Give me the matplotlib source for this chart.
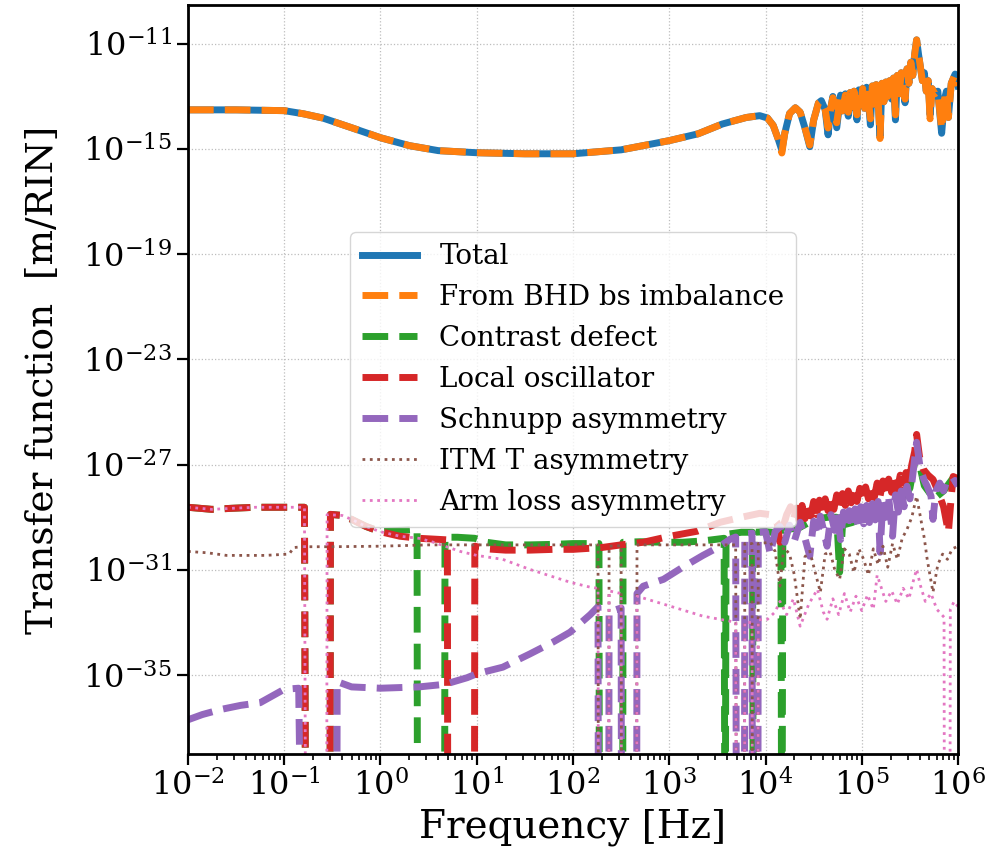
import numpy as np
import matplotlib
matplotlib.use("Agg")
import matplotlib.pyplot as plt
from matplotlib.ticker import LogLocator, NullLocator, NullFormatter

plt.rcParams["font.family"] = ["DejaVu Serif"]
plt.rcParams["mathtext.fontset"] = "dejavuserif"

# ---- data: log10(frequency / Hz) and log10(|TF| / (m/RIN)) ----
# -45 marks samples where the transfer function goes through zero / changes sign
total_logf = [-2.00, -1.50, -1.00, -0.80, -0.60, -0.30, 0.00, 0.30, 0.60, 1.00,
              1.50, 2.00, 2.50, 3.00, 3.30, 3.55, 3.80, 3.94, 4.02, 4.08,
              4.13, 4.17, 4.20, 4.25, 4.31, 4.36, 4.41, 4.46, 4.50, 4.55,
              4.58, 4.62, 4.65, 4.68, 4.70, 4.74, 4.78, 4.80, 4.83, 4.86,
              4.88, 4.90, 4.92, 4.95, 4.97, 4.99, 5.01, 5.03, 5.05, 5.07,
              5.09, 5.11, 5.13, 5.15, 5.17, 5.19, 5.21, 5.23, 5.25, 5.27,
              5.29, 5.31, 5.33, 5.35, 5.37, 5.39, 5.41, 5.43, 5.45, 5.47,
              5.49, 5.51, 5.53, 5.55, 5.57, 5.59, 5.61, 5.63, 5.65, 5.67,
              5.69, 5.71, 5.73, 5.76, 5.79, 5.83, 5.86, 5.88, 5.90, 5.93,
              5.97, 6.00]
total_logm = [-13.51, -13.51, -13.54, -13.66, -13.82, -14.19, -14.57, -14.87, -15.06, -15.14,
              -15.18, -15.18, -15.03, -14.68, -14.42, -14.05, -13.80, -13.73, -13.82, -14.10,
              -14.60, -15.05, -14.40, -13.65, -13.43, -13.60, -14.20, -14.91, -13.90, -13.25,
              -13.16, -13.50, -14.46, -13.40, -13.00, -14.19, -12.95, -13.55, -12.90, -13.75,
              -12.85, -13.40, -12.80, -13.89, -12.75, -13.30, -12.70, -13.45, -12.65, -13.20,
              -14.08, -12.60, -13.30, -12.55, -13.10, -14.53, -12.50, -13.20, -12.45, -13.00,
              -12.40, -13.10, -12.30, -13.89, -12.20, -12.90, -12.10, -12.70, -13.24, -11.95,
              -12.50, -11.70, -12.20, -11.40, -10.85, -11.40, -11.90, -12.40, -12.10, -12.80,
              -12.40, -13.70, -12.70, -12.90, -12.80, -14.40, -13.10, -12.80, -13.80, -12.50,
              -12.15, -12.60]
bhd_logm = [-13.51, -13.51, -13.54, -13.66, -13.82, -14.19, -14.57, -14.87, -15.06, -15.14,
            -15.18, -15.18, -15.03, -14.68, -14.42, -14.05, -13.80, -13.73, -13.82, -14.10,
            -14.60, -15.15, -14.40, -13.65, -13.43, -13.60, -14.20, -14.85, -13.90, -13.25,
            -13.16, -13.50, -14.20, -13.40, -13.05, -14.00, -12.95, -13.55, -12.95, -13.60,
            -12.85, -13.40, -12.80, -13.70, -12.75, -13.30, -12.70, -13.45, -12.65, -13.20,
            -13.85, -12.60, -13.30, -12.55, -13.10, -14.60, -12.50, -13.20, -12.45, -13.00,
            -12.40, -13.10, -12.30, -13.70, -12.20, -12.90, -12.10, -12.70, -13.10, -11.95,
            -12.50, -11.70, -12.20, -11.40, -10.85, -11.40, -11.90, -12.40, -12.10, -12.80,
            -12.40, -13.85, -12.70, -12.90, -12.80, -14.25, -13.10, -12.80, -13.80, -12.50,
            -12.15, -12.60]

cd_logf = [-2.00, -1.75, -1.55, -1.30, -1.00, -0.79, -0.775, -0.525, -0.52, -0.40,
           -0.30, -0.15, 0.00, 0.20, 0.38, 0.385, 0.665, 0.67, 0.80, 0.98,
           1.10, 1.30, 1.55, 1.80, 2.00, 2.27, 2.275, 2.515, 2.52, 2.70,
           2.94, 3.14, 3.35, 3.57, 3.58, 3.59, 3.75, 3.865, 3.875, 3.885,
           4.00, 4.16, 4.17, 4.18, 4.25, 4.35, 4.45, 4.55, 4.65, 4.74,
           4.77, 4.80, 4.90, 5.00, 5.10, 5.20, 5.30, 5.40, 5.50, 5.57,
           5.65, 5.75, 5.85, 5.95, 6.00]
cd_logm = [-28.62, -28.70, -28.66, -28.62, -28.62, -28.62, -45, -45, -28.89, -28.93,
           -29.08, -29.35, -29.55, -29.50, -29.46, -45, -45, -29.76, -29.76, -29.80,
           -29.95, -30.05, -30.05, -30.03, -30.00, -30.00, -45, -45, -29.95, -29.93,
           -29.95, -29.95, -29.90, -29.80, -45, -29.65, -29.57, -29.57, -45, -29.57,
           -29.55, -29.60, -45, -29.50, -29.45, -29.40, -29.20, -29.05, -29.00, -29.00,
           -31.09, -29.30, -29.20, -29.05, -28.90, -28.75, -28.60, -28.40, -27.90, -26.50,
           -27.80, -28.30, -28.00, -27.50, -27.48]

lo_logf = [-2.00, -1.75, -1.55, -1.30, -1.00, -0.79, -0.775, -0.525, -0.52, -0.40,
           -0.30, -0.15, 0.00, 0.20, 0.40, 0.60, 0.695, 0.70, 0.975, 0.98,
           1.10, 1.30, 1.55, 1.80, 2.00, 2.30, 2.50, 2.73, 3.01, 3.29,
           3.53, 3.75, 3.94, 4.05, 4.12, 4.15, 4.18, 4.22, 4.26,
           4.29, 4.32, 4.35, 4.38, 4.41, 4.44, 4.47, 4.50, 4.53, 4.56,
           4.59, 4.62, 4.65, 4.68, 4.71, 4.74, 4.77, 4.80, 4.83, 4.86,
           4.89, 4.92, 4.95, 4.98, 5.01, 5.04, 5.07, 5.10, 5.13, 5.16,
           5.19, 5.22, 5.25, 5.28, 5.31, 5.34, 5.37, 5.40, 5.43, 5.46,
           5.49, 5.52, 5.55, 5.57, 5.60, 5.64, 5.69, 5.74, 5.78, 5.81,
           5.85, 5.90, 5.93, 5.95, 5.98, 6.00]
lo_logm = [-28.62, -28.70, -28.66, -28.62, -28.62, -28.62, -45, -45, -28.89, -28.93,
           -29.08, -29.35, -29.55, -29.72, -29.80, -29.84, -29.86, -45, -45, -30.10,
           -30.20, -30.25, -30.25, -30.22, -30.22, -30.15, -30.05, -29.95, -29.72, -29.53,
           -29.19, -29.00, -28.85, -28.90, -29.20, -29.95, -29.40, -28.90, -28.60,
           -29.10, -28.65, -29.15, -28.55, -29.05, -28.45, -28.95, -28.40, -28.90, -28.35,
           -28.85, -28.30, -28.75, -28.22, -28.70, -28.15, -28.60, -28.10, -28.55, -28.00,
           -28.45, -27.95, -28.40, -27.90, -28.35, -27.85, -28.30, -27.78, -28.25, -27.70,
           -28.20, -27.62, -28.10, -27.55, -28.05, -27.48, -27.95, -27.40, -27.85, -27.30,
           -27.70, -27.00, -26.50, -25.85, -26.70, -27.18, -27.40, -27.56, -27.90, -28.20,
           -28.60, -29.57, -28.20, -27.45, -27.50, -27.56]

sa_logf = [-2.00, -1.85, -1.65, -1.45, -1.25, -1.00, -0.85, -0.815, -0.455, -0.45,
           -0.30, 0.00, 0.40, 0.67, 0.90, 1.00, 1.27, 1.55, 1.79, 1.97,
           2.18, 2.26, 2.265, 2.37, 2.375, 2.50, 2.505, 2.66, 2.665, 2.73,
           2.94, 3.14, 3.35, 3.53, 3.63, 3.69, 3.70, 3.78, 3.785, 3.86,
           3.865, 3.92, 3.925, 4.00, 4.05, 4.10, 4.15, 4.20, 4.25, 4.30,
           4.36, 4.41, 4.46, 4.50, 4.54, 4.57, 4.61, 4.64, 4.68, 4.72,
           4.75, 4.78, 4.81, 4.84, 4.87, 4.90, 4.93, 4.96, 4.99, 5.02,
           5.05, 5.08, 5.11, 5.14, 5.17, 5.19, 5.22, 5.25, 5.28, 5.32,
           5.35, 5.38, 5.41, 5.44, 5.47, 5.50, 5.53, 5.57, 5.61, 5.65,
           5.68, 5.72, 5.74, 5.77, 5.81, 5.85, 5.89, 5.93, 5.97, 6.00]
sa_logm = [-36.70, -36.50, -36.30, -36.15, -36.05, -35.54, -35.50, -45, -45, -35.25,
           -35.45, -35.50, -35.45, -35.35, -35.10, -34.95, -34.70, -34.20, -33.75, -33.37,
           -32.70, -32.40, -45, -45, -32.60, -32.45, -45, -45, -31.90, -31.62,
           -31.36, -30.90, -30.45, -30.10, -29.84, -29.75, -45, -45, -29.65, -29.60,
           -45, -45, -29.57, -29.55, -30.40, -29.55, -29.35, -29.95, -29.30, -29.90,
           -29.19, -29.80, -30.48, -29.15, -29.70, -28.96, -29.60, -30.10, -28.90, -29.50,
           -28.85, -29.85, -28.80, -29.40, -28.75, -29.35, -28.68, -29.30, -28.60, -29.25,
           -28.55, -29.20, -28.48, -29.10, -28.40, -30.33, -28.35, -29.00, -28.25, -29.72,
           -28.15, -28.80, -28.00, -28.60, -27.82, -28.30, -27.40, -26.15, -27.20, -27.60,
           -27.82, -28.20, -29.08, -28.00, -27.70, -28.00, -27.56, -27.70, -27.60, -27.82]

itm_logf = [-2.00, -1.80, -1.60, -1.20, -0.95, -0.90, -0.80, -0.50, 0.00, 0.50,
            1.00, 1.50, 2.00, 2.26, 2.265, 2.37, 2.375, 2.50, 2.505, 2.66,
            2.665, 3.00, 3.40, 3.69, 3.70, 3.78, 3.785, 3.86, 3.865, 3.92,
            3.925, 4.05, 4.10, 4.15, 4.19, 4.25, 4.30, 4.36, 4.41, 4.46,
            4.51, 4.57, 4.62, 4.67, 4.72, 4.77, 4.82, 4.87, 4.92, 4.97,
            5.02, 5.07, 5.12, 5.17, 5.22, 5.27, 5.32, 5.37, 5.42, 5.47,
            5.52, 5.57, 5.61, 5.65, 5.68, 5.74, 5.79, 5.84, 5.89, 5.94,
            6.00]
itm_logm = [-30.30, -30.35, -30.45, -30.45, -30.40, -30.15, -30.12, -30.12, -30.10, -30.05,
            -30.05, -30.05, -30.05, -30.05, -45, -45, -30.10, -30.08, -45, -45,
            -30.05, -30.05, -30.05, -30.05, -45, -45, -30.00, -30.00, -45, -45,
            -30.00, -29.95, -30.30, -31.62, -30.14, -30.40, -31.20, -32.88, -30.50, -30.29,
            -31.00, -31.85, -30.40, -30.30, -31.00, -31.36, -30.20, -30.40, -31.10, -30.20,
            -30.60, -31.20, -30.20, -30.80, -30.10, -30.90, -30.00, -30.60, -29.80, -29.46,
            -29.00, -28.20, -29.00, -29.80, -30.60, -31.85, -30.80, -30.40, -30.60, -30.20,
            -30.10]

al_logf = [-2.00, -1.75, -1.55, -1.30, -1.00, -0.79, -0.775, -0.56, -0.555, -0.40,
           -0.30, -0.15, 0.00, 0.20, 0.40, 0.55, 0.67, 0.83, 1.00, 1.27,
           1.55, 1.97, 2.18, 2.26, 2.265, 2.37, 2.375, 2.50, 2.505, 2.66,
           2.665, 3.01, 3.35, 3.63, 3.69, 3.70, 3.78, 3.785, 3.86, 3.865,
           3.92, 3.925, 4.02, 4.10, 4.15, 4.22, 4.29, 4.36, 4.45, 4.54,
           4.60, 4.64, 4.70, 4.76, 4.82, 4.88, 4.94, 5.00, 5.06, 5.12,
           5.16, 5.25, 5.31, 5.37, 5.43, 5.49, 5.53, 5.57, 5.61, 5.66,
           5.72, 5.78, 5.83, 5.855, 5.86, 5.915, 5.92, 5.96, 6.00]
al_logm = [-28.62, -28.70, -28.66, -28.62, -28.62, -28.62, -45, -45, -28.90, -28.93,
           -29.08, -29.35, -29.55, -29.72, -29.80, -29.95, -30.10, -30.30, -30.45, -30.60,
           -30.98, -31.47, -31.66, -31.70, -45, -45, -31.80, -31.90, -45, -45,
           -32.00, -32.38, -32.76, -32.95, -33.00, -45, -45, -33.00, -33.00, -45,
           -45, -32.90, -32.88, -32.60, -32.20, -32.70, -32.10, -33.14, -32.30, -31.74,
           -32.60, -32.88, -32.10, -32.70, -31.90, -32.60, -32.00, -32.55, -31.95, -32.50,
           -31.20, -32.20, -31.80, -32.30, -31.70, -32.10, -31.50, -30.98, -31.60, -32.20,
           -31.90, -32.50, -32.70, -32.80, -45, -45, -32.50, -32.20, -32.40]

series = [
    ("Total", total_logf, total_logm, dict(color="C0", lw=5.0, ls="-")),
    ("From BHD bs imbalance", total_logf, bhd_logm, dict(color="C1", lw=5.0, ls="--")),
    ("Contrast defect", cd_logf, cd_logm, dict(color="C2", lw=5.0, ls="--")),
    ("Local oscillator", lo_logf, lo_logm, dict(color="C3", lw=5.0, ls="--")),
    ("Schnupp asymmetry", sa_logf, sa_logm, dict(color="C4", lw=5.0, ls="--")),
    ("ITM T asymmetry", itm_logf, itm_logm, dict(color="C5", lw=2.0, ls=":")),
    ("Arm loss asymmetry", al_logf, al_logm, dict(color="C6", lw=2.0, ls=":")),
]

fig = plt.figure(figsize=(10.08, 8.61), dpi=100)
ax = fig.add_axes([0.1865, 0.1243, 0.7639, 0.8699])

for label, lf, lm, style in series:
    ax.plot(10.0 ** np.asarray(lf), 10.0 ** np.asarray(lm), label=label, **style)

ax.set_xscale("log")
ax.set_yscale("log")
ax.set_xlim(1e-2, 1e6)
ax.set_ylim(1e-38, 3e-10)

ax.set_xticks(10.0 ** np.arange(-2, 7))
ax.xaxis.set_minor_locator(LogLocator(base=10, subs=np.arange(2, 10), numticks=20))
ax.xaxis.set_minor_formatter(NullFormatter())
ax.set_yticks(10.0 ** np.arange(-35, -10, 4))
ax.yaxis.set_minor_locator(NullLocator())

ax.grid(True, which="major", ls=":", color="#bdbdbd", lw=0.9)
ax.tick_params(which="major", labelsize=23, length=8, width=1.6)
ax.tick_params(which="minor", length=4.5, width=1.2)
for sp in ax.spines.values():
    sp.set_linewidth(2.0)

ax.set_xlabel("Frequency [Hz]", fontsize=28, labelpad=4)
ax.set_ylabel("Transfer function  [m/RIN]", fontsize=27, labelpad=16)

ax.legend(loc="center", fontsize=20, framealpha=0.8)

fig.savefig("out.png", dpi=100)
